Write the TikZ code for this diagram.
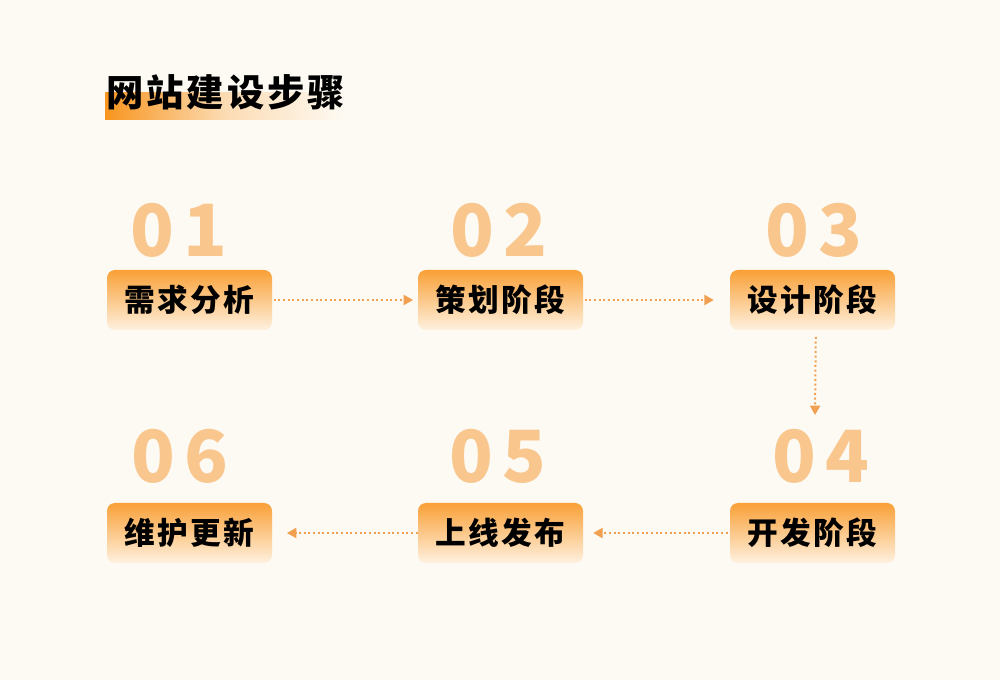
\documentclass[tikz,border=0pt]{standalone}
\usepackage{xcolor}
\usepackage{fontspec}
\setmainfont{Noto Sans CJK SC}
\newfontfamily\cjk{Noto Sans CJK SC}[LetterSpace=8]
\newfontfamily\cjknum{Noto Sans CJK SC}[LetterSpace=12]
\usetikzlibrary{arrows.meta, positioning}

\definecolor{bgcream}{HTML}{FDFAF3}
\definecolor{deeporange}{HTML}{F8951F}
\definecolor{boxtop}{HTML}{F9A037}
\definecolor{boxbottom}{HTML}{FEF1DF}
\definecolor{numorange}{HTML}{F9C68D}
\definecolor{arroworange}{HTML}{F0A050}

\tikzset{
  stepbox/.style={rounded corners=6pt, top color=boxtop, bottom color=boxbottom,
    minimum width=123.75pt, minimum height=45pt, inner sep=0pt,
    font=\cjk\bfseries\fontsize{23}{25}\selectfont},
  stepnum/.style={anchor=base, inner sep=0pt, text=numorange,
    font=\cjknum\bfseries\fontsize{54}{56}\selectfont},
  flow/.style={arroworange, line width=1.5pt, dash pattern=on 1.5pt off 2pt,
    -{Triangle[length=7pt,width=7.5pt]}},
}

\begin{document}
\begin{tikzpicture}[x=0.75pt,y=0.75pt,yscale=-1,xscale=1]
\useasboundingbox (0,0) rectangle (1000,680);
\fill[bgcream] (0,0) rectangle (1000,680);

%Title bar
\fill[left color=deeporange, right color=bgcream, middle color=deeporange!30!bgcream] (105,93) rectangle (345,120);
% Text Node
\node[anchor=west, inner sep=0pt, font=\cjk\bfseries\fontsize{28}{30}\selectfont] (title) at (106,92.5) {网站建设步骤};

%Steps, top row
\node[stepbox] (s1) at (189.5,300) {需求分析};
\node[stepbox] (s2) at (500.5,300) {策划阶段};
\node[stepbox] (s3) at (812.5,300) {设计阶段};
%Steps, bottom row
\node[stepbox] (s4) at (812.5,533) {开发阶段};
\node[stepbox] (s5) at (500.5,533) {上线发布};
\node[stepbox] (s6) at (189.5,533) {维护更新};

%Numbers
\node[stepnum] (n1) at (179,257) {01};
\node[stepnum] (n2) at (499,257) {02};
\node[stepnum] (n3) at (814,257) {03};
\node[stepnum] (n4) at (821,483) {04};
\node[stepnum] (n5) at (498,483) {05};
\node[stepnum] (n6) at (180,483) {06};

%Straight Lines
\coordinate (c4) at (815,415);
\draw[flow, shorten <=1pt, shorten >=3.5pt] (s1.east) -- (s2.west);
\draw[flow, shorten <=1pt, shorten >=12pt] (s2.east) -- (s3.west);
\draw[flow, shorten <=5pt] ([xshift=2.5]s3.south) -- (c4);
\draw[flow, shorten <=1.5pt, shorten >=7.5pt] (s4.west) -- (s5.east);
\draw[flow, shorten <=0pt, shorten >=11pt] (s5.west) -- (s6.east);

\end{tikzpicture}
\end{document}
